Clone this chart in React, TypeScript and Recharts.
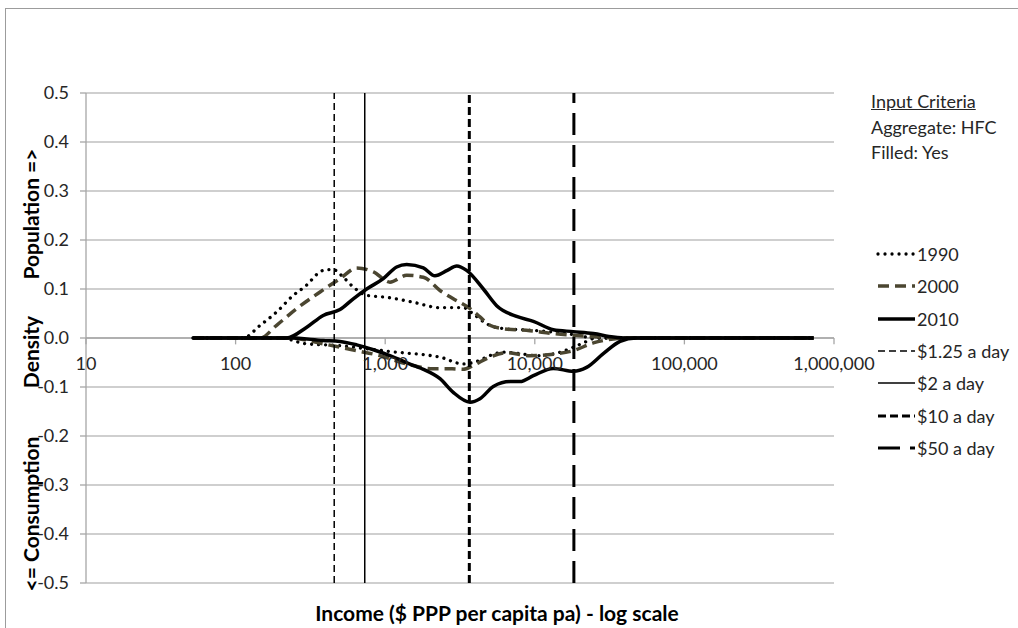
import React from "react"
import { LineChart, Line, XAxis, YAxis, CartesianGrid, ReferenceLine } from "recharts"

// ── data (income in $ PPP pa, log scale; density) ──
const X_TICKS = [10, 100, 1000, 10000, 100000, 1000000]
const Y_TICKS = [-0.5, -0.4, -0.3, -0.2, -0.1, 0, 0.1, 0.2, 0.3, 0.4, 0.5]

const INCOME_1990_POP = [52, 112, 146, 188, 243, 291, 385, 447, 525, 612, 752, 1023, 1541, 2323, 3326, 3880, 4766, 5850, 9290, 13300, 19050, 25000, 730000]
const DENSITY_1990_POP = [0, 0, 0.026, 0.053, 0.087, 0.105, 0.138, 0.14, 0.124, 0.104, 0.087, 0.083, 0.073, 0.062, 0.062, 0.049, 0.029, 0.02, 0.016, 0.012, 0.006, 0, 0]
const INCOME_1990_CON = [52, 198, 299, 474, 752, 1193, 1800, 2324, 3326, 4080, 5010, 6170, 7960, 10280, 14800, 18080, 21100, 25900, 730000]
const DENSITY_1990_CON = [0, 0, -0.012, -0.015, -0.022, -0.029, -0.034, -0.039, -0.053, -0.048, -0.036, -0.029, -0.032, -0.036, -0.029, -0.019, -0.01, 0, 0]

const INCOME_2000_POP = [52, 146, 188, 256, 367, 499, 645, 834, 1076, 1392, 1800, 2324, 2850, 3690, 4300, 5010, 6170, 9290, 13300, 19050, 27300, 37150, 730000]
const DENSITY_2000_POP = [0, 0, 0.026, 0.06, 0.094, 0.121, 0.143, 0.135, 0.114, 0.128, 0.124, 0.097, 0.08, 0.06, 0.043, 0.026, 0.019, 0.015, 0.009, 0.005, 0.002, 0, 0]
const INCOME_2000_CON = [52, 231, 385, 645, 922, 1392, 2100, 2800, 3326, 3880, 5010, 6486, 9290, 13300, 18080, 24600, 33500, 40000, 730000]
const DENSITY_2000_CON = [0, 0, -0.012, -0.026, -0.036, -0.053, -0.063, -0.063, -0.064, -0.056, -0.039, -0.03, -0.036, -0.033, -0.026, -0.01, -0.002, 0, 0]

const INCOME_2010_POP = [52, 219, 299, 385, 499, 612, 752, 971, 1193, 1392, 1800, 2150, 2600, 3006, 3500, 4530, 5560, 7560, 9780, 13300, 18080, 24600, 33500, 41100, 730000]
const DENSITY_2010_POP = [0, 0, 0.022, 0.046, 0.058, 0.08, 0.1, 0.121, 0.145, 0.15, 0.143, 0.127, 0.138, 0.147, 0.138, 0.1, 0.066, 0.044, 0.034, 0.017, 0.013, 0.009, 0.002, 0, 0]
const INCOME_2010_CON = [52, 231, 385, 499, 645, 834, 1076, 1540, 1800, 2324, 2850, 3690, 4300, 5280, 6830, 7960, 9780, 13300, 18080, 22200, 28700, 37150, 47500, 730000]
const DENSITY_2010_CON = [0, 0, -0.005, -0.007, -0.014, -0.024, -0.036, -0.056, -0.064, -0.083, -0.111, -0.131, -0.124, -0.099, -0.089, -0.089, -0.077, -0.062, -0.068, -0.06, -0.032, -0.007, 0, 0]

const DAILY_LINES = [1.25, 2, 10, 50] // $ a day
const CRITERIA = ["Aggregate: HFC", "Filled: Yes"]

const zip = (xs: number[], ys: number[]) => xs.map((x, i) => ({ x, y: ys[i] }))

type Style = { stroke: string; width: number; dash?: string; cap?: "round" | "butt" }

const YEAR_STYLES: Record<string, Style> = {
  "1990": { stroke: "#000", width: 3.3, dash: "0.01 7", cap: "round" },
  "2000": { stroke: "#4B4631", width: 3.5, dash: "11 6" },
  "2010": { stroke: "#000", width: 3.5 },
}

const YEARS = [
  { name: "1990", pop: zip(INCOME_1990_POP, DENSITY_1990_POP), con: zip(INCOME_1990_CON, DENSITY_1990_CON) },
  { name: "2000", pop: zip(INCOME_2000_POP, DENSITY_2000_POP), con: zip(INCOME_2000_CON, DENSITY_2000_CON) },
  { name: "2010", pop: zip(INCOME_2010_POP, DENSITY_2010_POP), con: zip(INCOME_2010_CON, DENSITY_2010_CON) },
]

const LINE_STYLES: Style[] = [
  { stroke: "#000", width: 1.5, dash: "7 4" },
  { stroke: "#000", width: 1.5 },
  { stroke: "#000", width: 3, dash: "8 4" },
  { stroke: "#000", width: 3, dash: "22 10" },
]

const POVERTY = DAILY_LINES.map((d, i) => ({ name: `$${d} a day`, value: d * 365, style: LINE_STYLES[i] }))

const LEGEND = [
  ...YEARS.map((y) => ({ name: y.name, style: YEAR_STYLES[y.name] })),
  ...POVERTY.map((p) => ({ name: p.name, style: p.style })),
]

const FONT = "Lato, 'Open Sans', sans-serif"
const TEXT = "#262626"
const AXIS = "#A6A6A6"

const fmt = (v: number) => v.toLocaleString("en-US")

export default function App() {
  return (
    <div style={{ position: "absolute", left: 0, top: 0, width: 1018, height: 628, background: "#fff", overflow: "hidden", fontFamily: FONT }}>
      <div style={{ position: "absolute", left: 5, top: 8, width: 1040, height: 660, border: "1.5px solid #9C9C9C" }} />
      <LineChart width={1018} height={628} margin={{ top: 93, right: 184, bottom: 45, left: 26 }} style={{ position: "absolute", left: 0, top: 0 }}>
        <CartesianGrid vertical={false} stroke="#BFBFBF" strokeWidth={1.3} />
        <XAxis type="number" dataKey="x" scale="log" domain={[10, 1000000]} ticks={X_TICKS} hide allowDataOverflow />
        <YAxis
          type="number"
          domain={[-0.5, 0.5]}
          ticks={Y_TICKS}
          interval={0}
          width={60}
          tickFormatter={(v) => Number(v).toFixed(1)}
          axisLine={{ stroke: AXIS, strokeWidth: 1.3 }}
          tickLine={{ stroke: AXIS, strokeWidth: 1.3 }}
          tickSize={6}
          tickMargin={11}
          tick={{ fill: TEXT, fontSize: 18, fontFamily: FONT }}
        />
        <ReferenceLine y={0} stroke={AXIS} strokeWidth={1.3} />
        {X_TICKS.map((t) => (
          <ReferenceLine
            key={t}
            segment={[{ x: t, y: 0 }, { x: t, y: -0.013 }]}
            stroke={AXIS}
            strokeWidth={1.3}
            label={{ value: fmt(t), position: "bottom", offset: 13, fill: TEXT, fontSize: 18, fontFamily: FONT }}
          />
        ))}
        {YEARS.flatMap((yr) => {
          const s = YEAR_STYLES[yr.name]
          return [yr.pop, yr.con].map((d, i) => (
            <Line
              key={`${yr.name}-${i}`}
              data={d}
              dataKey="y"
              type="monotone"
              stroke={s.stroke}
              strokeWidth={s.width}
              strokeDasharray={s.dash}
              strokeLinecap={s.cap ?? "butt"}
              dot={false}
              activeDot={false}
              isAnimationActive={false}
            />
          ))
        })}
        {POVERTY.map((p) => (
          <ReferenceLine key={p.name} x={p.value} stroke={p.style.stroke} strokeWidth={p.style.width} strokeDasharray={p.style.dash} />
        ))}
      </LineChart>

      <svg width={1018} height={628} style={{ position: "absolute", left: 0, top: 0, pointerEvents: "none" }}>
        <g fontFamily={FONT} fontWeight={700} fontSize={21} fill="#000" textAnchor="middle">
          <text transform="rotate(-90 30 214)" x={30} y={214} dominantBaseline="central">Population =&gt;</text>
          <text transform="rotate(-90 30 352)" x={30} y={352} dominantBaseline="central">Density</text>
          <text transform="rotate(-90 30 514)" x={30} y={514} dominantBaseline="central">&lt;= Consumption</text>
          <text x={497} y={612} dominantBaseline="central">Income ($ PPP per capita pa) - log scale</text>
        </g>
      </svg>

      <div style={{ position: "absolute", left: 871, top: 89, fontSize: 18, color: TEXT, lineHeight: "25.7px" }}>
        <div style={{ textDecoration: "underline" }}>Input Criteria</div>
        {CRITERIA.map((c) => (
          <div key={c}>{c}</div>
        ))}
      </div>

      <div style={{ position: "absolute", left: 876, top: 238 }}>
        {LEGEND.map((l) => (
          <div key={l.name} style={{ display: "flex", alignItems: "center", height: 32.3, fontSize: 18, color: TEXT }}>
            <svg width={40} height={10} style={{ marginRight: 1 }}>
              <line
                x1={2}
                y1={5}
                x2={39}
                y2={5}
                stroke={l.style.stroke}
                strokeWidth={l.style.width}
                strokeDasharray={l.style.dash}
                strokeLinecap={l.style.cap ?? "butt"}
              />
            </svg>
            <span>{l.name}</span>
          </div>
        ))}
      </div>
    </div>
  )
}
